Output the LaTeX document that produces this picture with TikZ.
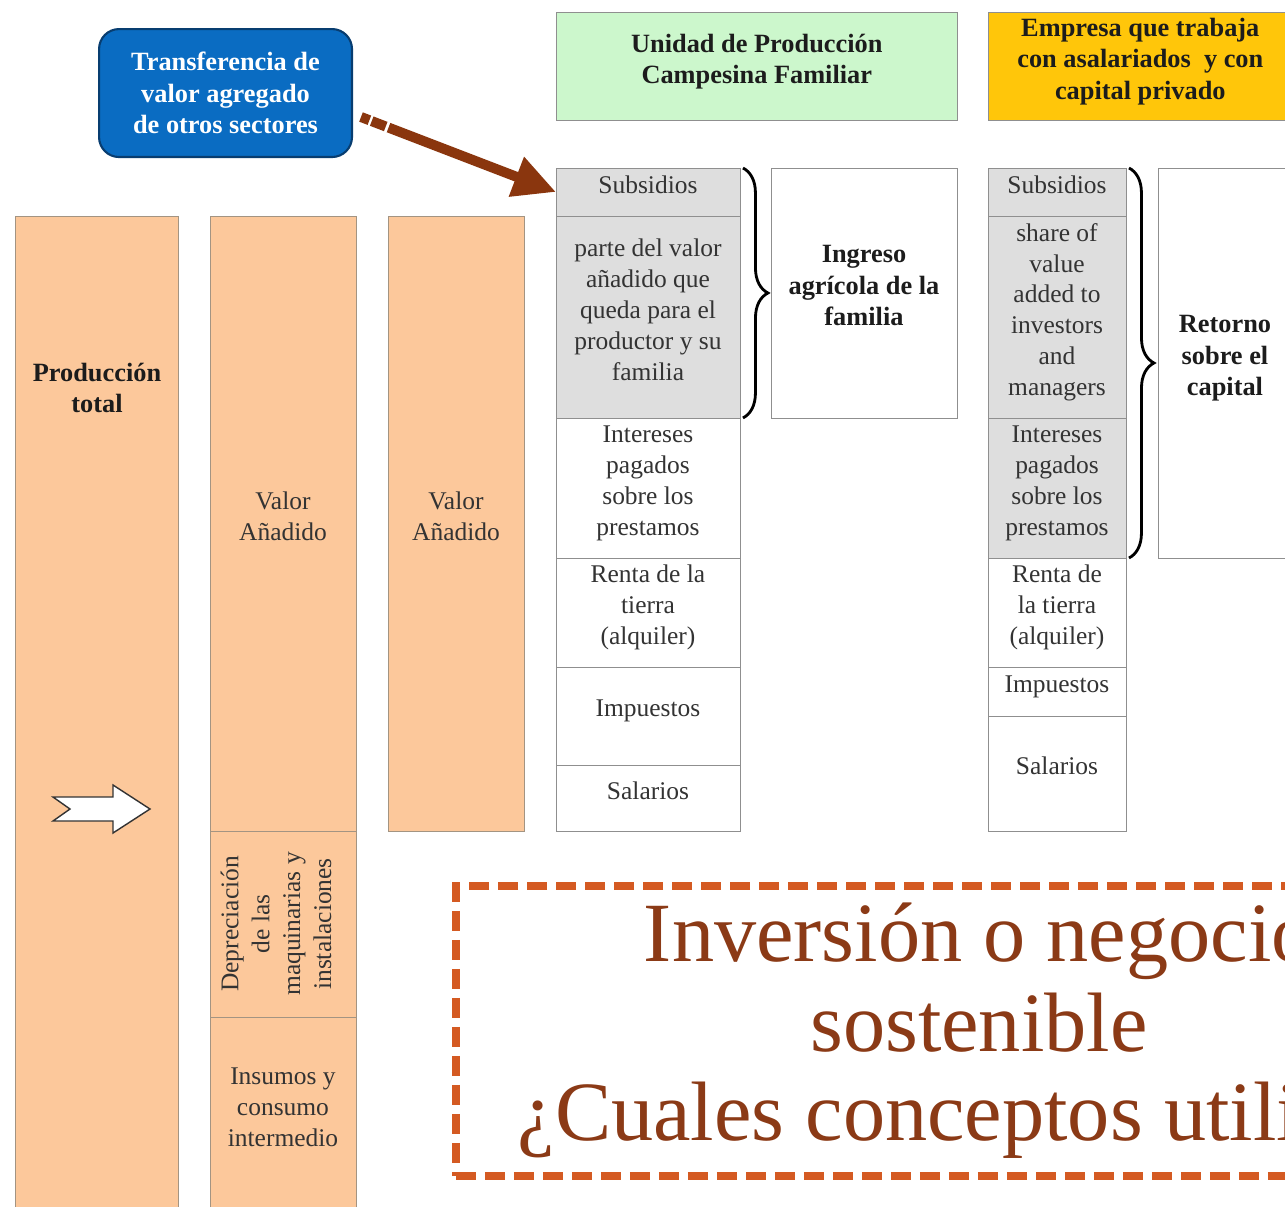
\documentclass[tikz,border=0pt]{standalone}
\usepackage{fontspec}
\setmainfont{Liberation Serif}
\usetikzlibrary{arrows.meta,decorations.pathreplacing}

\definecolor{peach}{HTML}{FCC89B}
\definecolor{peachline}{HTML}{A39482}
\definecolor{cellgrey}{HTML}{DEDEDE}
\definecolor{cellline}{HTML}{8F8F8F}
\definecolor{mint}{HTML}{CCF7CC}
\definecolor{gold}{HTML}{FFC60A}
\definecolor{tblue}{HTML}{0A6CC2}
\definecolor{tblueline}{HTML}{083D70}
\definecolor{rust}{HTML}{8A360E}
\definecolor{dashorange}{HTML}{D45A22}
\definecolor{bigtext}{HTML}{8B3A16}
\definecolor{txt}{HTML}{333333}
\definecolor{darktxt}{HTML}{1C1C1C}

\newcommand{\lblfont}{\fontsize{14.5}{17.6}\selectfont}
\newcommand{\hdfont}{\fontsize{15}{17.8}\selectfont\bfseries}

\tikzset{
	col/.style={draw=peachline,fill=peach,rectangle,inner sep=0pt,outer sep=0pt,anchor=north west,align=center,text=txt,font=\lblfont,text depth=0.3cm},
	cell/.style={draw=cellline,fill=white,rectangle,inner sep=0pt,outer sep=0pt,anchor=north west,align=center,text=txt,font=\lblfont,text depth=0.3cm},
	greycell/.style={cell,fill=cellgrey},
	headbox/.style={draw=cellline,rectangle,inner sep=0pt,anchor=north west,align=center,text=darktxt,font=\hdfont,text depth=0.3cm},
	transbox/.style={fill=tblue,draw=tblueline,line width=1.2pt,rounded corners=0.4cm,inner sep=0pt,anchor=north west,align=center,text=white,font=\hdfont},
	bracket/.style={decorate,decoration={brace,amplitude=0.5cm},line width=1.6pt,black}
}

\begin{document}
\begin{tikzpicture}[x=0.02cm,y=-0.02cm]
		\useasboundingbox (0,0) rectangle (1285,1207);
		\clip (0,0) rectangle (1285,1207);

		% headers
		\node[transbox,minimum width=5.06cm,minimum height=2.56cm] (trans) at (98,28) {Transferencia de\\valor agregado\\de otros sectores};
		\node[headbox,fill=mint,minimum width=8.02cm,minimum height=2.16cm] (upcf) at (556,12) {Unidad de Producción\\Campesina Familiar};
		\node[headbox,fill=gold,minimum width=6.08cm,minimum height=2.16cm] (empresa) at (988,12) {Empresa que trabaja\\con asalariados~ y con\\capital privado};

		% production columns
		\node[col,minimum width=3.26cm,minimum height=20cm] (prod) at (15,216) {};
		\node[font=\hdfont,text=darktxt,align=center] (prodtxt) at (97,388) {Producción\\total};
		\draw[fill=white,draw=black!80,line width=0.8pt] (53,797) -- (70,809) -- (53,821) -- (113,821) -- (113,833) -- (150,809) -- (113,785) -- (113,797) -- cycle;

		\node[col,minimum width=2.92cm,minimum height=12.3cm] (va1) at (210,216) {Valor\\Añadido};
		\node[col,minimum width=2.92cm,minimum height=3.72cm] (dep) at (210,831) {};
		\node[rotate=90,align=center,font=\lblfont,text=txt] (deptxt) at ([xshift=-0.14cm]dep.center) {Depreciación\\de las\\maquinarias y\\instalaciones};
		\node[col,minimum width=2.92cm,minimum height=3.9cm] (ins) at (210,1017) {Insumos y\\consumo\\intermedio};

		\node[col,minimum width=2.72cm,minimum height=12.3cm] (va2) at (388,216) {Valor\\Añadido};

		% family unit
		\node[greycell,minimum width=3.68cm,minimum height=0.96cm] (fsub) at (556,168) {Subsidios};
		\node[greycell,minimum width=3.68cm,minimum height=4.04cm] (fpar) at (556,216) {parte del valor\\añadido que\\queda para el\\productor y su\\familia};
		\node[cell,minimum width=3.68cm,minimum height=2.8cm] (fint) at (556,418) {Intereses\\pagados\\sobre los\\prestamos};
		\node[cell,minimum width=3.68cm,minimum height=2.18cm] (fren) at (556,558) {Renta de la\\tierra\\(alquiler)};
		\node[cell,minimum width=3.68cm,minimum height=1.96cm] (fimp) at (556,667) {Impuestos};
		\node[cell,minimum width=3.68cm,minimum height=1.32cm] (fsal) at (556,765) {Salarios};
		\node[cell,font=\hdfont,text=darktxt,minimum width=3.72cm,minimum height=5cm] (ingreso) at (771,168) {Ingreso\\agrícola de la\\familia};
		\draw[bracket] ([xshift=0.06cm]fsub.north east) -- ([xshift=0.06cm]fpar.south east);

		% enterprise
		\node[greycell,minimum width=2.76cm,minimum height=0.96cm] (esub) at (988,168) {Subsidios};
		\node[greycell,minimum width=2.76cm,minimum height=4.04cm] (esha) at (988,216) {share of\\value\\added to\\investors\\and\\managers};
		\node[greycell,minimum width=2.76cm,minimum height=2.8cm] (eint) at (988,418) {Intereses\\pagados\\sobre los\\prestamos};
		\node[cell,minimum width=2.76cm,minimum height=2.18cm] (eren) at (988,558) {Renta de\\la tierra\\(alquiler)};
		\node[cell,minimum width=2.76cm,minimum height=0.98cm] (eimp) at (988,667) {Impuestos};
		\node[cell,minimum width=2.76cm,minimum height=2.3cm] (esal) at (988,716) {Salarios};
		\node[cell,font=\hdfont,text=darktxt,minimum width=2.68cm,minimum height=7.8cm] (retorno) at (1158,168) {Retorno\\sobre el\\capital};
		\draw[bracket] ([xshift=0.06cm]esub.north east) -- ([xshift=0.06cm]eint.south east);

		% transfer arrow
		\coordinate (arrstart) at (361,117);
		\draw[rust,line width=0.2cm,dash pattern=on 0.18cm off 0.05cm on 0.3cm off 0.06cm on 20cm,-{Triangle[width=0.8cm,length=0.85cm]}] (arrstart) -- (fsub.west);

		% question box
		\node[draw=dashorange,line width=0.16cm,dash pattern=on 0.4cm off 0.18cm,anchor=north west,inner sep=0pt,minimum width=20.92cm,minimum height=5.8cm,align=center,text=bigtext,font=\fontsize{48}{51}\selectfont] (quest) at (452,882) {Inversión o negocio\\sostenible\\¿Cuales conceptos utilizar?};
\end{tikzpicture}
\end{document}
